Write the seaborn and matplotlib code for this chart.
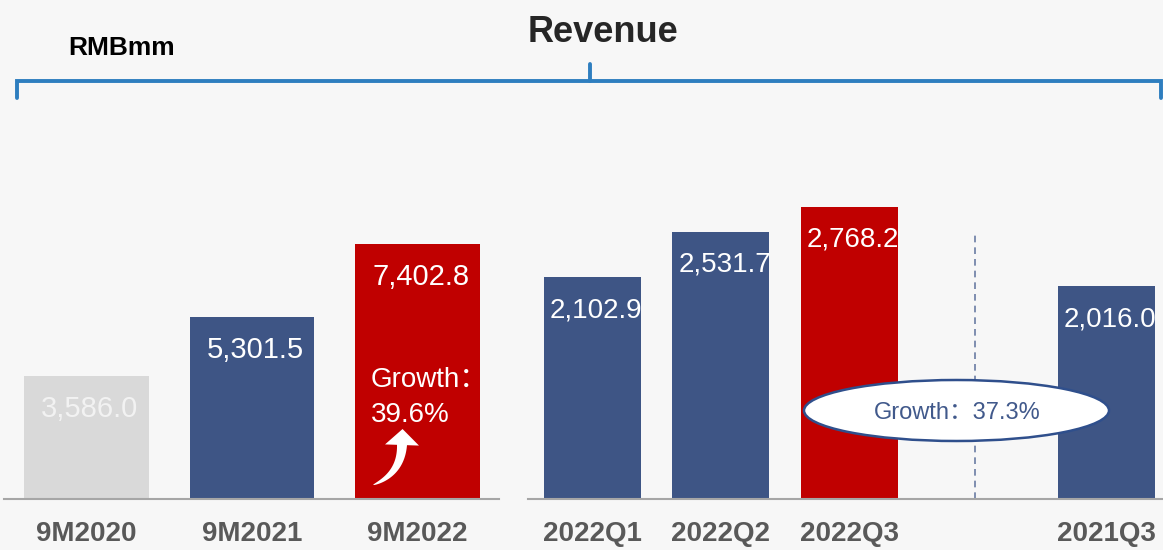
import matplotlib
matplotlib.use("Agg")
import matplotlib.pyplot as plt
from matplotlib.patches import Ellipse, Polygon
from matplotlib.lines import Line2D
import seaborn as sns
import pandas as pd
import numpy as np

# revenue, RMBmm
ytd_periods = ["9M2020", "9M2021", "9M2022"]
ytd_revenue = [3586.0, 5301.5, 7402.8]
ytd_colors = ["#d9d9d9", "#3e5585", "#c00000"]
ytd_label_colors = ["#f2f2f2", "white", "white"]

qtr_periods = ["2022Q1", "2022Q2", "2022Q3", "2021Q3"]
qtr_revenue = [2102.9, 2531.7, 2768.2, 2016.0]
qtr_colors = ["#3e5585", "#3e5585", "#c00000", "#3e5585"]
qtr_order = ["2022Q1", "2022Q2", "2022Q3", "", "2021Q3"]

ytd_growth = ["Growth：", "39.6%"]
yoy_growth = "Growth：37.3%"

sns.set_style("white")
plt.rcParams["font.family"] = ["Liberation Sans", "Noto Sans CJK SC", "DejaVu Sans"]

W, H = 1163, 550
BG = "#f7f7f7"


def fx(x):
    return x / W


def fy(y):
    return 1 - y / H


def curved_arrow(p0, p1, p2, neck, head_w, head_l):
    # tapered quadratic-bezier body + triangular head, in pixel coords (y down)
    p0, p1, p2 = map(np.array, (p0, p1, p2))
    t = np.linspace(0, 1, 40)[:, None]
    c = (1 - t) ** 2 * p0 + 2 * (1 - t) * t * p1 + t ** 2 * p2
    d = 2 * (1 - t) * (p1 - p0) + 2 * t * (p2 - p1)
    d = d / np.linalg.norm(d, axis=1, keepdims=True)
    n = np.column_stack([-d[:, 1], d[:, 0]])
    w = neck / 2 * t[:, 0] ** 0.6
    left = c + n * w[:, None]
    right = c - n * w[:, None]
    tip = p2 + d[-1] * head_l
    hl = p2 + n[-1] * head_w / 2
    hr = p2 - n[-1] * head_w / 2
    pts = np.vstack([left, hl, tip, hr, right[::-1]])
    return [(fx(x), fy(y)) for x, y in pts]


fig = plt.figure(figsize=(W / 100, H / 100), dpi=100, facecolor=BG)

ax1 = fig.add_axes([fx(4), fy(499), (499 - 4) / W, 399 / H])
ax2 = fig.add_axes([fx(528), fy(499), (1163 - 528) / W, 399 / H])

df1 = pd.DataFrame({"period": ytd_periods, "revenue": ytd_revenue})
df2 = pd.DataFrame({"period": qtr_periods, "revenue": qtr_revenue})

sns.barplot(data=df1, x="period", y="revenue", hue="period", order=ytd_periods,
            palette=dict(zip(ytd_periods, ytd_colors)), saturation=1,
            width=0.755, legend=False, linewidth=0, ax=ax1)
sns.barplot(data=df2, x="period", y="revenue", hue="period", order=qtr_order,
            palette=dict(zip(qtr_periods, qtr_colors)), saturation=1,
            width=0.755, legend=False, linewidth=0, ax=ax2)

ax1.set_xlim(-0.4985, 2.4925)
ax1.set_ylim(0, 399 / 0.0344)
ax2.set_xlim(-0.502, 4.44)
ax2.set_ylim(0, 399 / 0.1055)

for ax in (ax1, ax2):
    ax.set_facecolor(BG)
    ax.set_xlabel("")
    ax.set_ylabel("")
    ax.set_yticks([])
    for s in ("left", "top", "right"):
        ax.spines[s].set_visible(False)
    ax.spines["bottom"].set_color("#a6a6a6")
    ax.spines["bottom"].set_linewidth(1.5)
    ax.tick_params(axis="x", length=0, pad=16, labelsize=20, labelcolor="#595959")
    for lbl in ax.get_xticklabels():
        lbl.set_fontweight("bold")

# value labels inside the bars
for i, (v, c) in enumerate(zip(ytd_revenue, ytd_label_colors)):
    ax1.annotate(f"{v:,.1f}", xy=(i, v), xytext=(3.5, -33), textcoords="offset pixels",
                 ha="center", va="center", color=c, fontsize=21)
for p, v in zip(qtr_periods, qtr_revenue):
    ax2.annotate(f"{v:,.1f}", xy=(qtr_order.index(p), v), xytext=(3.5, -33),
                 textcoords="offset pixels", ha="center", va="center",
                 color="white", fontsize=20)

# separator between current and prior-year quarter
ax2.axvline(2.98, ymin=0, ymax=264 / 399, color="#6a7ca3", lw=1.2, ls=(0, (4, 3)))

# growth note inside the 9M2022 bar
for txt, yb in zip(ytd_growth, [387, 422]):
    fig.text(fx(371), fy(yb), txt, ha="left", va="baseline", color="white", fontsize=20)

arrow = Polygon(curved_arrow((373, 485), (401, 474), (402, 445), neck=10, head_w=34, head_l=16),
                closed=True, transform=fig.transFigure, facecolor="white",
                edgecolor="none", zorder=5)
fig.add_artist(arrow)

# yoy growth bubble
ell = Ellipse((fx(956.5), fy(410.5)), width=305 / W, height=61 / H,
              transform=fig.transFigure, facecolor="white", edgecolor="#2f4f8c",
              lw=1.8, zorder=5)
fig.add_artist(ell)
fig.text(fx(957), fy(419), yoy_growth, ha="center", va="baseline",
         color="#41598b", fontsize=17, zorder=6)

# header
fig.text(fx(603), fy(42), "Revenue", ha="center", va="baseline",
         fontsize=26, fontweight="bold", color="#262626")
fig.text(fx(68), fy(55), "RMBmm", ha="left", va="baseline",
         fontsize=19, fontweight="bold", color="black")

bracket_color = "#2e7ebf"
fig.add_artist(Line2D([fx(17), fx(17), fx(1161), fx(1161)], [fy(98), fy(81), fy(81), fy(98)],
                      transform=fig.transFigure, color=bracket_color, lw=2.8,
                      solid_joinstyle="miter"))
fig.add_artist(Line2D([fx(590), fx(590)], [fy(64), fy(81)],
                      transform=fig.transFigure, color=bracket_color, lw=2.8))

fig.savefig("out.png", dpi=100, facecolor=BG)
